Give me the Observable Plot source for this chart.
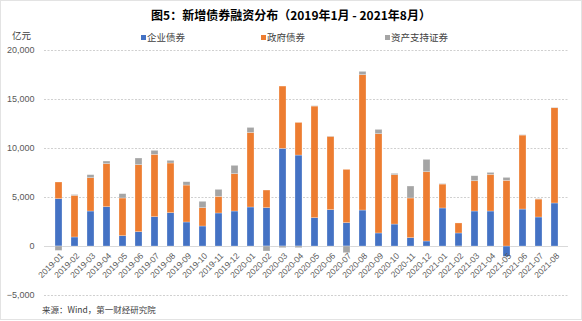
<!DOCTYPE html>
<html>
<head>
<meta charset="utf-8">
<script src="https://cdn.jsdelivr.net/npm/d3@7"></script>
<script src="https://cdn.jsdelivr.net/npm/@observablehq/plot@0.6"></script>
<style>
  html, body { margin: 0; padding: 0; background: #fff; }
  #wrap { position: relative; width: 582px; height: 321px; overflow: hidden; font-family: "Noto Sans CJK SC", "Liberation Sans", sans-serif; }
  #frame { position: absolute; left: 0; top: 0; width: 580px; height: 318px; border: 1px solid #e3e3e3; }
  #chart { position: absolute; left: 0; top: 0; }
  .title { position: absolute; left: 0; width: 582px; top: 6px; text-align: center; font-size: 12px; font-weight: bold; color: #000; line-height: 18px; }
  .unit { position: absolute; left: 12px; top: 29px; font-size: 9.5px; color: #404040; line-height: 12px; }
  .leg { position: absolute; top: 31px; font-size: 9.5px; color: #404040; line-height: 12px; white-space: nowrap; }
  .leg i { display: inline-block; width: 5px; height: 5px; margin-right: 1px; vertical-align: 1px; }
  .source { position: absolute; left: 42px; top: 303px; font-size: 8.5px; color: #404040; line-height: 12px; }
</style>
</head>
<body>
<div id="wrap">
  <div id="frame"></div>
  <div id="chart"></div>
  <div class="title">图5：新增债券融资分布（2019年1月 - 2021年8月）</div>
  <div class="unit">亿元</div>
  <div id="legend"></div>
  <div class="source">来源：Wind，第一财经研究院</div>
</div>
<script>
const months = ["2019-01","2019-02","2019-03","2019-04","2019-05","2019-06","2019-07","2019-08","2019-09","2019-10","2019-11","2019-12",
  "2020-01","2020-02","2020-03","2020-04","2020-05","2020-06","2020-07","2020-08","2020-09","2020-10","2020-11","2020-12",
  "2021-01","2021-02","2021-03","2021-04","2021-05","2021-06","2021-07","2021-08"];
const seriesNames = ["企业债券", "政府债券", "资产支持证券"];
const seriesColors = ["#4472C4", "#ED7D31", "#A5A5A5"];
const corpBonds = [4830, 920, 3570, 4010, 1050, 1460, 2990, 3400, 2450, 2040, 3370, 3570,
  3980, 3910, 9960, 9280, 2890, 3710, 2380, 3670, 1330, 2240, 850, 510,
  3880, 1330, 3570, 3570, -1050, 3770, 2960, 4390];
const govBonds = [1700, 4250, 3400, 4390, 3850, 6840, 6360, 5070, 3770, 1870, 1700, 3810,
  7610, 1800, 6360, 3330, 11390, 7480, 5440, 13810, 10130, 5040, 4050, 7070,
  2440, 1020, 3090, 3740, 6700, 7550, 1830, 9720];
const absSecurities = [-450, 80, 310, 270, 440, 680, 410, 270, 340, 650, 710, 850,
  510, -510, -170, -170, 40, 30, -680, 340, 440, 130, 1220, 1260,
  50, -100, 510, 200, 300, 40, 40, 40];
const yTicks = [-5000, 0, 5000, 10000, 15000, 20000];

const seriesValues = [corpBonds, govBonds, absSecurities];
const table = [];
months.forEach((m, i) => {
  seriesNames.forEach((s, j) => table.push({month: m, series: s, value: seriesValues[j][i]}));
});

const chart = Plot.plot({
  width: 582,
  height: 321,
  marginTop: 50,
  marginBottom: 26,
  marginLeft: 44,
  marginRight: 14,
  style: {fontFamily: "'Liberation Sans', 'Noto Sans CJK SC', sans-serif", background: "transparent"},
  x: {domain: months, paddingInner: 0.59, paddingOuter: 0.295, axis: null},
  y: {domain: [-5000, 20000], axis: null},
  color: {domain: seriesNames, range: seriesColors},
  marks: [
    Plot.ruleY(yTicks.filter(d => d !== 0), {stroke: "#d0d0d0", strokeDasharray: "2,1.5", strokeWidth: 1}),
    Plot.ruleY([0], {stroke: "#d9d9d9", strokeWidth: 1}),
    Plot.axisY({ticks: yTicks, tickSize: 0, tickPadding: 10, tickFormat: d3.format(","), fontSize: 9, fill: "#595959", label: null}),
    Plot.barY(table, {x: "month", y: "value", fill: "series", stroke: "white", strokeOpacity: 0.45, strokeWidth: 0.6}),
    Plot.text(months, {x: d => d, y: () => 0, text: d => d, rotate: -45, textAnchor: "end", dx: 3, dy: 8, fontSize: 8.5, fill: "#595959"})
  ]
});
document.getElementById("chart").appendChild(chart);

const legendPos = [141, 261, 385];
const legend = document.getElementById("legend");
seriesNames.forEach((s, j) => {
  const d = document.createElement("div");
  d.className = "leg";
  d.style.left = legendPos[j] + "px";
  d.innerHTML = `<i style="background:${seriesColors[j]}"></i>${s}`;
  legend.appendChild(d);
});
</script>
</body>
</html>
